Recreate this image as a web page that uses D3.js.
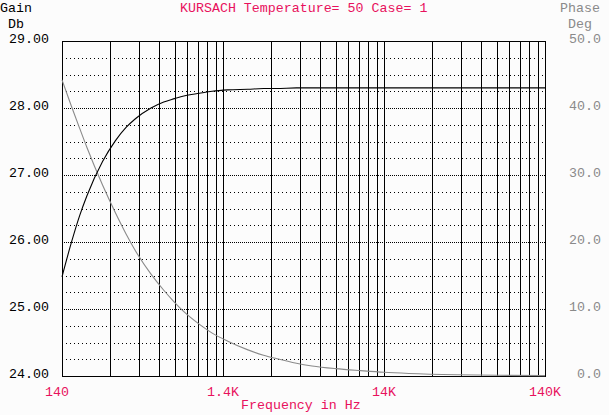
<!DOCTYPE html>
<html><head><meta charset="utf-8">
<script src="https://cdn.jsdelivr.net/npm/d3@7"></script>
<style>
html,body{margin:0;padding:0;background:#fcfcfc;}
svg{display:block;}
text{font-family:"Liberation Mono","DejaVu Sans Mono",monospace;font-size:13.3px;}
</style></head>
<body>
<svg id="chart" width="609" height="415"></svg>
<script>
// ---- data ----
const title = "KURSACH Temperature= 50 Case= 1";
const freqs = [140,160,180,200,250,300,350,400,500,600,700,800,1000,1200,1500,2000,2500,3000,4000,5000,7000,10000,14000,20000,40000,70000,140000];
const gainDb = [25.48,25.99,26.39,26.69,27.20,27.51,27.71,27.84,28.00,28.09,28.14,28.18,28.22,28.25,28.27,28.28,28.29,28.29,28.30,28.30,28.30,28.30,28.30,28.30,28.30,28.30,28.30];
const phaseDeg = [44.2,40.3,37.0,34.1,28.5,24.4,21.2,18.7,15.2,12.8,11.0,9.6,7.7,6.4,5.2,3.9,3.1,2.6,1.9,1.5,1.1,0.8,0.55,0.38,0.19,0.11,0.06];
const gainTicks = [24,25,26,27,28,29];
const gainTickLabels = ["24.00","25.00","26.00","27.00","28.00","29.00"];
const phaseTicks = [0,10,20,30,40,50];
const phaseTickLabels = ["0.0","10.0","20.0","30.0","40.0","50.0"];
const freqTicks = [140,1400,14000,140000];
const freqTickLabels = ["140","1.4K","14K","140K"];

// ---- layout ----
const svg = d3.select("#chart");
const L = 62, R = 545, T = 41, B = 376;
const x = d3.scaleLog().domain([140,140000]).range([L,R]);
const yG = d3.scaleLinear().domain([24,29]).range([B,T]);
const yP = d3.scaleLinear().domain([0,50]).range([B,T]);
const pink = "#e8115d", gray = "#8a8a8a";
const px = v => Math.round(v) + 0.5;

const grid = svg.append("g").attr("shape-rendering","crispEdges");
// horizontal dotted grid
d3.range(24.25, 29, 0.25).forEach(v => {
  const major = Math.abs(v - Math.round(v)) < 1e-6;
  grid.append("line").attr("x1",L).attr("x2",R).attr("y1",px(yG(v))).attr("y2",px(yG(v)))
    .attr("stroke","#000").attr("stroke-width",1)
    .attr("stroke-dasharray", major ? "1,1" : "1,3");
});
// vertical solid log grid
const vlines = [];
[140,1400,14000].forEach(d => { for (let k=1;k<=10;k++) vlines.push(d*k); });
vlines.forEach(f => {
  grid.append("line").attr("x1",px(x(f))).attr("x2",px(x(f))).attr("y1",T).attr("y2",B)
    .attr("stroke","#000").attr("stroke-width",1);
});
// frame
grid.append("rect").attr("x",L+0.5).attr("y",T+0.5).attr("width",R-L).attr("height",B-T)
  .attr("fill","none").attr("stroke","#000").attr("stroke-width",1);

// curves
const pts = freqs.map((f,i)=>({f, g:gainDb[i], p:phaseDeg[i]}));
svg.append("path").datum(pts)
  .attr("d", d3.line().x(d=>x(d.f)).y(d=>yP(d.p)).curve(d3.curveMonotoneX))
  .attr("fill","none").attr("stroke",gray).attr("stroke-width",1.1);
svg.append("path").datum(pts)
  .attr("d", d3.line().x(d=>x(d.f)).y(d=>yG(d.g)).curve(d3.curveMonotoneX))
  .attr("fill","none").attr("stroke","#000").attr("stroke-width",1.1);

// left axis labels
svg.append("text").attr("x",0).attr("y",12).text("Gain").attr("fill","#000");
svg.append("text").attr("x",8).attr("y",28).text("Db").attr("fill","#000");
gainTicks.forEach((v,i)=>{
  svg.append("text").attr("x",49).attr("y",yG(v)+2).attr("text-anchor","end")
    .attr("fill","#000").text(gainTickLabels[i]);
});
// right axis labels
svg.append("text").attr("x",560).attr("y",12).text("Phase").attr("fill",gray);
svg.append("text").attr("x",568).attr("y",28).text("Deg").attr("fill",gray);
phaseTicks.forEach((v,i)=>{
  svg.append("text").attr("x",601).attr("y",yP(v)+2).attr("text-anchor","end")
    .attr("fill",gray).text(phaseTickLabels[i]);
});
// title
svg.append("text").attr("x",180).attr("y",12).attr("fill",pink).text(title);
// x tick labels
freqTicks.forEach((f,i)=>{
  const cx = x(f);
  svg.append("text").attr("x", i===0 ? cx-5 : cx).attr("y",396).attr("text-anchor","middle")
    .attr("fill",pink).text(freqTickLabels[i]);
});
svg.append("text").attr("x",241).attr("y",409).attr("fill",pink).text("Frequency in Hz");
</script>
</body></html>
